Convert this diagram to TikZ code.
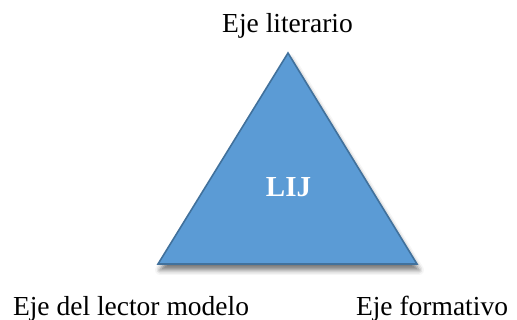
\documentclass[tikz,border=0pt]{standalone}
\usepackage{fontspec}
\setmainfont{Liberation Serif}
\usetikzlibrary{shadows.blur}
\definecolor{trifill}{HTML}{5B9BD5}
\definecolor{triline}{HTML}{41719C}
\tikzset{
  axis label/.style={anchor=base, inner sep=0pt, font=\fontsize{27.5}{33}\selectfont, text=black},
  tri/.style={fill=trifill, draw=triline, line width=1.6pt, line join=miter,
    blur shadow={shadow xshift=2pt, shadow yshift=-6pt, shadow blur radius=5pt, shadow opacity=55}},
}
\begin{document}
\begin{tikzpicture}[x=1pt,y=1pt]
\useasboundingbox (0,0) rectangle (517,320);
\coordinate (apex) at (288,267);
\coordinate (bl) at (158,56);
\coordinate (br) at (417,56);
\path[tri] (apex) -- (br) -- (bl) -- cycle;
\node[anchor=base, inner sep=0pt, font=\fontsize{29}{34}\selectfont\bfseries, text=white] (lij) at (288.5,123) {LIJ};
\node[axis label] (lit) at (287.5,287) {Eje literario};
\node[axis label] (lec) at (131,4.5) {Eje del lector modelo};
\node[axis label] (for) at (432,4.5) {Eje formativo};
\end{tikzpicture}
\end{document}
